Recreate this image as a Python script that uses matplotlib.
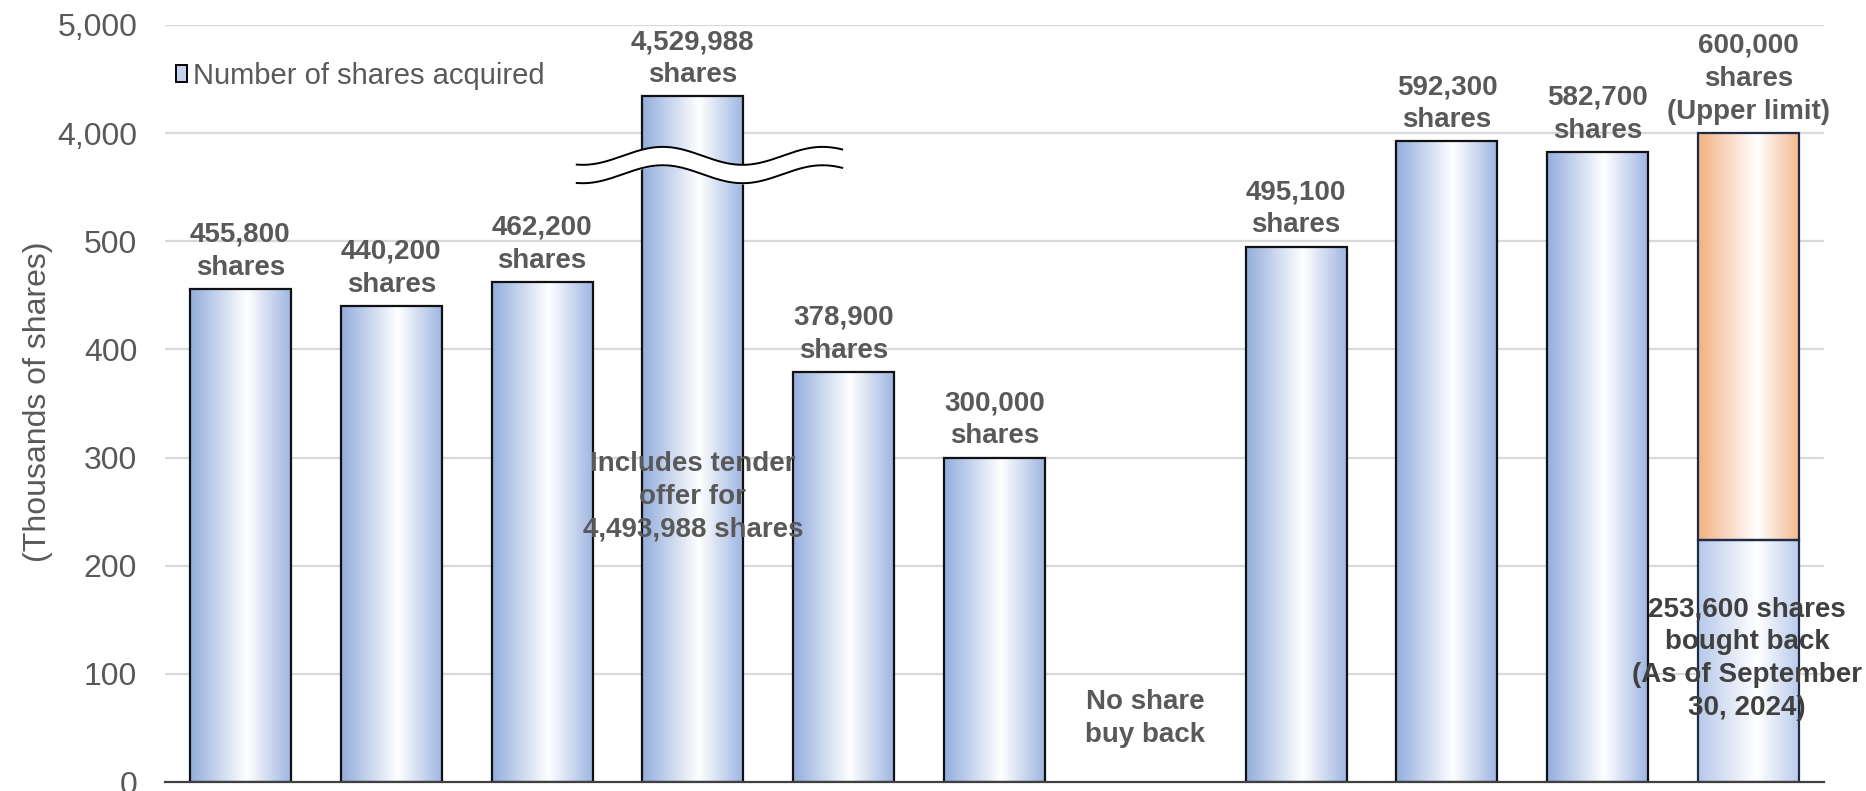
import numpy as np
import matplotlib
matplotlib.use("Agg")
import matplotlib.pyplot as plt
from matplotlib.patches import Rectangle, Patch
from matplotlib.colors import LinearSegmentedColormap

plt.rcParams["font.family"] = ["Liberation Sans", "DejaVu Sans"]

# ── Data (thousands of shares, as drawn on the broken axis) ─────────────────
acquired_shares = [455800, 440200, 462200, 4529988, 378900, 300000, 0,
                   495100, 592300, 582700, 253600]
drawn_height = [455.8, 440.2, 462.2, 634.0, 378.9, 300.0, 0.0,
                495.1, 592.3, 582.7, 224.0]
upper_limit_rest = [0, 0, 0, 0, 0, 0, 0, 0, 0, 0, 376.0]   # orange part
top_labels = ["455,800\nshares", "440,200\nshares", "462,200\nshares",
              "4,529,988\nshares", "378,900\nshares", "300,000\nshares", "",
              "495,100\nshares", "592,300\nshares", "582,700\nshares",
              "600,000\nshares\n(Upper limit)"]
ytick_pos = [0, 100, 200, 300, 400, 500, 600, 700]
ytick_labels = ["0", "100", "200", "300", "400", "500", "4,000", "5,000"]

TEXT_GREY = "#595959"
GRID = "#D9D9D9"
BAR_W = 0.67

blue_cmap = LinearSegmentedColormap.from_list(
    "blue", [(0, "#93ADDD"), (0.56, "#FFFFFF"), (1, "#9DB4E1")])
pale_cmap = LinearSegmentedColormap.from_list(
    "pale", [(0, "#B7C9E9"), (0.58, "#FFFFFF"), (1, "#B9CAEA")])
orange_cmap = LinearSegmentedColormap.from_list(
    "orange", [(0, "#F4B183"), (0.58, "#FFFFFF"), (1, "#F4B68C")])
grad = np.linspace(0, 1, 256).reshape(1, -1)


def gradient_bar(ax, x, bottom, height, cmap, edge="#111111"):
    if height <= 0:
        return
    ax.imshow(grad, cmap=cmap, aspect="auto", interpolation="bilinear",
              extent=[x - BAR_W / 2, x + BAR_W / 2, bottom, bottom + height],
              zorder=2)
    ax.add_patch(Rectangle((x - BAR_W / 2, bottom), BAR_W, height,
                           facecolor="none", edgecolor=edge, linewidth=1.6,
                           zorder=3))


label_kw = dict(fontsize=20, fontweight="bold", linespacing=1.35)

fig = plt.figure(figsize=(18.66, 7.91), dpi=100)
ax = fig.add_axes([165 / 1866, 9 / 791, 1659 / 1866, 757 / 791])

x = np.arange(len(drawn_height))
for i, h in enumerate(drawn_height):
    last = upper_limit_rest[i] > 0
    gradient_bar(ax, x[i], 0, h, pale_cmap if last else blue_cmap,
                 edge="#1F2A44" if last else "#111111")
    if last:
        gradient_bar(ax, x[i], h, upper_limit_rest[i], orange_cmap,
                     edge="#1F2A44")
    total = h + upper_limit_rest[i]
    if top_labels[i]:
        ax.annotate(top_labels[i], (x[i], total), xytext=(0, 6),
                    textcoords="offset points", ha="center", va="bottom",
                    color=TEXT_GREY, zorder=5, **label_kw)

# ── Axis break on the tender-offer bar ─────────────────────────────────────
wx = np.linspace(2.23, 3.99, 200)
wave = 8.3 * np.sin((wx - 2.80) / 1.06 * 2 * np.pi + np.pi / 2)
ax.fill_between(wx, 562 + wave, 579 + wave, color="white", zorder=4)
ax.plot(wx, 579 + wave, color="black", lw=1.4, zorder=4.5)
ax.plot(wx, 562 + wave, color="black", lw=1.4, zorder=4.5)

# ── Annotations ────────────────────────────────────────────────────────────
ax.text(3, 264, "Includes tender\noffer for\n4,493,988 shares",
        ha="center", va="center", color=TEXT_GREY, zorder=6, **label_kw)
ax.text(6, 59, "No share\nbuy back", ha="center", va="center",
        color=TEXT_GREY, zorder=6, **label_kw)
ax.text(9.99, 114, "253,600 shares\nbought back\n(As of September\n30, 2024)",
        ha="center", va="center", color="#404040", zorder=6, **label_kw)

# ── Axes styling ───────────────────────────────────────────────────────────
ax.set_xlim(-0.5, len(drawn_height) - 0.5)
ax.set_ylim(0, 700)
ax.set_yticks(ytick_pos)
ax.set_yticklabels(ytick_labels)
ax.set_xticks([])
ax.tick_params(axis="y", length=0, pad=20, labelsize=23, labelcolor=TEXT_GREY)
for yv in ytick_pos[1:]:
    ax.axhline(yv, color=GRID, lw=1.6, zorder=0)
for s in ["top", "left", "right"]:
    ax.spines[s].set_visible(False)
ax.spines["bottom"].set_color("#404040")
ax.spines["bottom"].set_linewidth(1.6)
ax.spines["bottom"].set_zorder(4)

fig.text(38 / 1866, 0.492, "(Thousands of shares)", rotation=90,
         ha="center", va="center", fontsize=23, color=TEXT_GREY)

handle = Patch(facecolor="#C3D2EE", edgecolor="black", linewidth=1.4)
fig.legend([handle], ["Number of shares acquired"], loc="center left",
           bbox_to_anchor=(161 / 1866, 1 - 76 / 791), frameon=False,
           fontsize=21, labelcolor=TEXT_GREY, borderpad=0,
           handlelength=0.4, handleheight=0.5, handletextpad=0.2)

fig.savefig("out.png", dpi=100)
